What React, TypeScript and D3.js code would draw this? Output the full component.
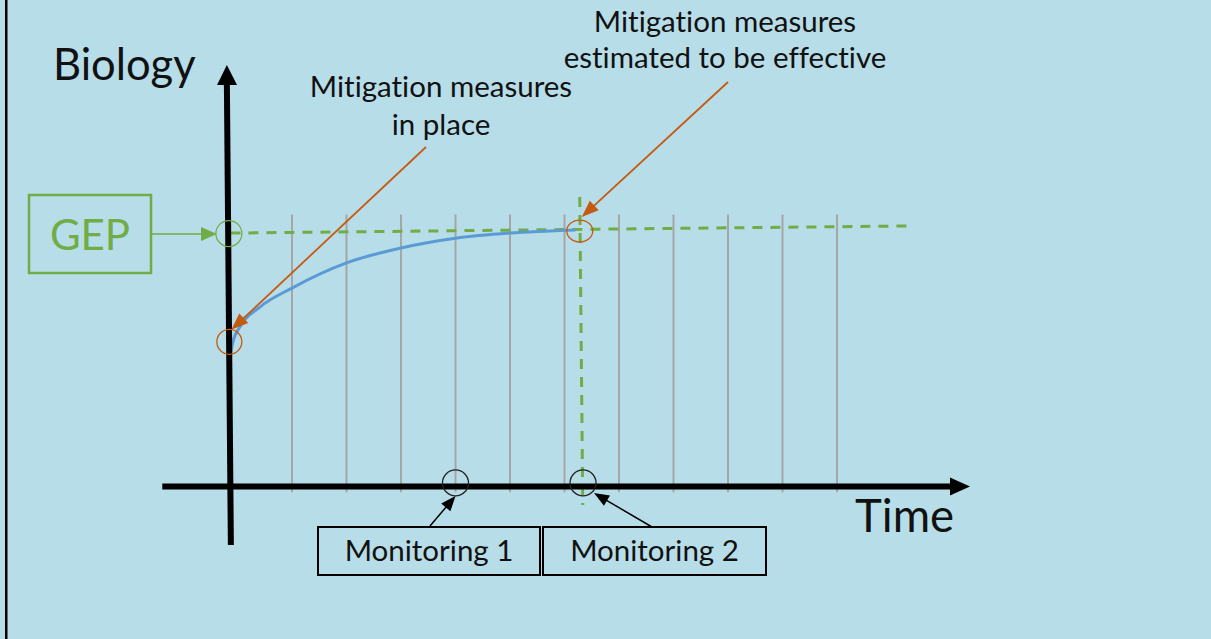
import React from 'react'
import * as d3 from 'd3'

// monitoring grid (time units) and recovery curve
const gridTimes = [1, 2, 3, 4, 5, 6, 7, 8, 9, 10, 11]
const curveTime = [-0.14, -0.09, 0.05, 0.41, 1, 2, 3, 4, 5, 6.2]
const curveBio = [0.5, 0.56, 0.625, 0.7, 0.774, 0.872, 0.93, 0.968, 0.988, 1.0]
const gepLineTime = [-0.13, 12.4]
const gepLineBio = [0.988, 1.016]
const axisTime = -0.14
const measuresInPlace = [-0.15, 0.565]
const measuresEffective = [6.28, 0.996]
const monitoringTimes = [4.0, 6.34]
const monitoringLabels = ['Monitoring 1', 'Monitoring 2']
const label1 = ['Mitigation measures', 'in place']
const label2 = ['Mitigation measures', 'estimated to be effective']

const W = 1211
const H = 639
const FONT = 'Lato, "Open Sans", sans-serif'
const GREEN = '#70ad47'
const ORANGE = '#c55a11'
const BLUE = '#5b9bd5'
const GRAY = '#a6a6a6'

// arrow head triangle pointing at (x2,y2)
function head(x1: number, y1: number, x2: number, y2: number, len: number, wid: number) {
  const a = Math.atan2(y2 - y1, x2 - x1)
  const bx = x2 - len * Math.cos(a)
  const by = y2 - len * Math.sin(a)
  const px = (wid / 2) * Math.sin(a)
  const py = (wid / 2) * Math.cos(a)
  return `${x2},${y2} ${bx + px},${by - py} ${bx - px},${by + py}`
}

function Arrow({ x1, y1, x2, y2, color, sw, len, wid }: any) {
  const a = Math.atan2(y2 - y1, x2 - x1)
  const ex = x2 - (len - 2) * Math.cos(a)
  const ey = y2 - (len - 2) * Math.sin(a)
  return (
    <g>
      <line x1={x1} y1={y1} x2={ex} y2={ey} stroke={color} strokeWidth={sw} />
      <polygon points={head(x1, y1, x2, y2, len, wid)} fill={color} />
    </g>
  )
}

const App = () => {
  const xScale = d3.scaleLinear().domain([0, 11]).range([237.5, 837])
  const yScale = d3.scaleLinear().domain([0, 1]).range([487, 230])

  const line = d3
    .line<number>()
    .x((d, i) => xScale(curveTime[i]))
    .y((d) => yScale(d))
    .curve(d3.curveMonotoneX)

  const ax0 = xScale(axisTime)
  const yAxisBottom = yScale(-0.226)
  const yAxisTop = 65
  const xAxisY = yScale(0)
  const effX = xScale(measuresEffective[0])
  const effY = yScale(measuresEffective[1])
  const inX = xScale(measuresInPlace[0])
  const inY = yScale(measuresInPlace[1])

  const boxes = [
    [318, 527, 222, 48],
    [543, 527, 223, 48]
  ]

  return (
    <svg
      width={W}
      height={H}
      style={{ position: 'absolute', left: 0, top: 0, display: 'block', fontVariantLigatures: 'none' }}
      fontFamily={FONT}
    >
      <rect x={0} y={0} width={W} height={H} fill="#b7dde8" />
      <rect x={5} y={0} width={2.5} height={H} fill="#000" />

      {/* grey monitoring lines */}
      {gridTimes.map((t) => (
        <line
          key={t}
          x1={xScale(t)}
          x2={xScale(t)}
          y1={yScale(1.06)}
          y2={yScale(-0.02)}
          stroke={GRAY}
          strokeWidth={2}
        />
      ))}

      {/* GEP dashed line */}
      <line
        x1={xScale(gepLineTime[0])}
        y1={yScale(gepLineBio[0])}
        x2={xScale(gepLineTime[1])}
        y2={yScale(gepLineBio[1])}
        stroke={GREEN}
        strokeWidth={3}
        strokeDasharray="10 8"
      />
      {/* vertical dashed at effective time */}
      <line
        x1={effX}
        y1={197}
        x2={effX + 3}
        y2={505}
        stroke={GREEN}
        strokeWidth={3}
        strokeDasharray="10 8"
      />

      {/* recovery curve */}
      <path d={line(curveBio) || ''} fill="none" stroke={BLUE} strokeWidth={3} />

      {/* axes */}
      <line x1={ax0 + 1} y1={yAxisBottom} x2={ax0 - 3} y2={yAxisTop + 18} stroke="#000" strokeWidth={6} />
      <polygon points={head(ax0 + 1, yAxisBottom, ax0 - 3, yAxisTop, 20, 20)} fill="#000" />
      <line x1={xScale(-1.38)} y1={xAxisY - 0.5} x2={952} y2={xAxisY - 0.5} stroke="#000" strokeWidth={6} />
      <polygon points={head(xScale(-1.38), xAxisY - 0.5, 970, xAxisY - 0.5, 20, 18)} fill="#000" />

      {/* GEP box and arrow */}
      <rect x={29} y={195} width={122} height={78} fill="none" stroke={GREEN} strokeWidth={2.5} />
      <text x={90} y={250} textAnchor="middle" fontSize={42} fill={GREEN}>
        GEP
      </text>
      <Arrow x1={151} y1={234} x2={217} y2={234} color={GREEN} sw={1.5} len={16} wid={14} />
      <circle cx={ax0 - 1} cy={yScale(0.986)} r={13} fill="none" stroke={GREEN} strokeWidth={1.2} />

      {/* orange markers */}
      <circle cx={inX} cy={inY} r={12.5} fill="none" stroke={ORANGE} strokeWidth={1.3} />
      <ellipse cx={effX} cy={effY} rx={13} ry={11} fill="none" stroke={ORANGE} strokeWidth={1.3} />
      <Arrow x1={426} y1={147} x2={inX + 2} y2={inY - 12} color={ORANGE} sw={1.8} len={17} wid={13} />
      <Arrow x1={728} y1={82} x2={effX + 2} y2={effY - 14} color={ORANGE} sw={1.8} len={17} wid={13} />

      {/* monitoring circles */}
      {monitoringTimes.map((t) => (
        <circle key={t} cx={xScale(t)} cy={yScale(0.016)} r={13} fill="none" stroke="#222" strokeWidth={1.3} />
      ))}
      <Arrow x1={430} y1={526} x2={xScale(monitoringTimes[0])} y2={496} color="#000" sw={1.5} len={15} wid={12} />
      <Arrow x1={652} y1={527} x2={xScale(monitoringTimes[1]) + 11} y2={493} color="#000" sw={1.5} len={15} wid={12} />

      {/* monitoring boxes */}
      {boxes.map((b, i) => (
        <g key={i}>
          <rect x={b[0]} y={b[1]} width={b[2]} height={b[3]} fill="none" stroke="#000" strokeWidth={2} />
          <text x={b[0] + b[2] / 2} y={561} textAnchor="middle" fontSize={29.5} fill="#111">
            {monitoringLabels[i]}
          </text>
        </g>
      ))}

      {/* labels */}
      <text x={53} y={80} fontSize={43.5} fill="#111">
        Biology
      </text>
      <text x={855} y={532} fontSize={45.5} fill="#111">
        Time
      </text>
      {label1.map((s, i) => (
        <text key={i} x={441} y={97 + i * 38} textAnchor="middle" fontSize={29.5} fill="#111">
          {s}
        </text>
      ))}
      {label2.map((s, i) => (
        <text key={i} x={725} y={32 + i * 36} textAnchor="middle" fontSize={29.5} fill="#111">
          {s}
        </text>
      ))}
    </svg>
  )
}

export default App
